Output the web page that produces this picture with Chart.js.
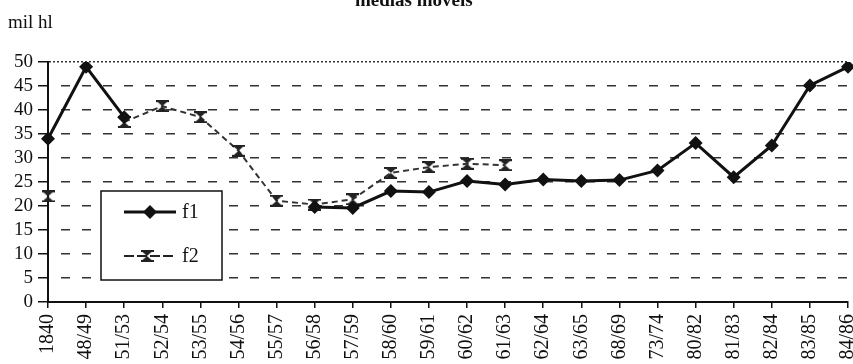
<!DOCTYPE html>
<html>
<head>
<meta charset="utf-8">
<script src="https://cdn.jsdelivr.net/npm/chart.js@4/dist/chart.umd.min.js"></script>
<style>
  html, body { margin: 0; padding: 0; background: #fff; overflow: hidden; }
  #wrap { position: relative; width: 853px; height: 364px; overflow: hidden; }
  #chart { position: absolute; left: 0; top: 0; }
  .txt { position: absolute; font-family: "Liberation Serif", "DejaVu Serif", serif; color: #111; white-space: nowrap; line-height: 19px; }
</style>
</head>
<body>
<div id="wrap">
  <canvas id="chart" width="878" height="400"></canvas>
  <div class="txt" style="left:355px; top:-10px; font-size:19px; font-weight:bold;">médias móveis</div>
  <div class="txt" style="left:8px; top:12px; font-size:19px;">mil hl</div>
</div>
<script>
// periods on the x axis
const periods = ['1840', '48/49', '51/53', '52/54', '53/55', '54/56', '55/57', '56/58', '57/59', '58/60', '59/61',
    '60/62', '61/63', '62/64', '63/65', '68/69', '73/74', '80/82', '81/83', '82/84', '83/85', '84/86'];

// mil hl
const f1 = [34, 49, 38.5, null, null, null, null, 19.8, 19.6, 23.1, 22.9,
    25.2, 24.5, 25.5, 25.2, 25.4, 27.4, 33.1, 26.0, 32.6, 45.1, 49.0];
const f2 = [22, null, 37.5, 40.8, 38.5, 31.5, 21.1, 20.3, 21.4, 26.9, 28.1,
    28.8, 28.5, null, null, null, null, null, null, null, null, null];

const yTicks = [0, 5, 10, 15, 20, 25, 30, 35, 40, 45, 50];

// hourglass marker used for f2
function hourglass() {
    const c = document.createElement('canvas');
    c.width = 13;
    c.height = 12;
    const g = c.getContext('2d');
    g.fillStyle = '#222';
    g.fillRect(0, 0, 13, 2);
    g.fillRect(0, 10, 13, 2);
    g.beginPath();
    g.moveTo(2, 2); g.lineTo(11, 2); g.lineTo(6.5, 6);
    g.lineTo(11, 10); g.lineTo(2, 10); g.lineTo(6.5, 6);
    g.closePath();
    g.fill();
    return c;
}
const f2Marker = hourglass();

// legend box inside the plot
const boxLegend = {
    id: 'boxLegend',
    afterDraw(chart) {
        const ctx = chart.ctx;
        ctx.save();
        ctx.fillStyle = '#fff';
        ctx.fillRect(101, 191, 121, 89);
        ctx.strokeStyle = '#111';
        ctx.lineWidth = 1.5;
        ctx.strokeRect(101, 191, 121, 89);

        // f1
        ctx.strokeStyle = '#111';
        ctx.lineWidth = 3;
        ctx.beginPath(); ctx.moveTo(124, 212); ctx.lineTo(176, 212); ctx.stroke();
        ctx.fillStyle = '#111';
        ctx.beginPath();
        ctx.moveTo(150, 205); ctx.lineTo(157, 212); ctx.lineTo(150, 219); ctx.lineTo(143, 212);
        ctx.closePath(); ctx.fill();

        // f2
        ctx.strokeStyle = '#222';
        ctx.lineWidth = 2;
        ctx.setLineDash([10, 3]);
        ctx.beginPath(); ctx.moveTo(124, 256); ctx.lineTo(176, 256); ctx.stroke();
        ctx.setLineDash([]);
        ctx.drawImage(f2Marker, 147 - 6.5, 256 - 6);

        ctx.fillStyle = '#111';
        ctx.font = '20px "Liberation Serif"';
        ctx.textBaseline = 'middle';
        ctx.fillText('f1', 182, 213);
        ctx.fillText('f2', 182, 257);
        ctx.restore();
    }
};

new Chart(document.getElementById('chart'), {
    type: 'line',
    data: {
        labels: periods,
        datasets: [
            {
                label: 'f1',
                data: f1,
                borderColor: '#111',
                backgroundColor: '#111',
                borderWidth: 3,
                pointStyle: 'rectRot',
                pointRadius: 7,
                pointBorderWidth: 0,
                spanGaps: false,
                tension: 0,
            },
            {
                label: 'f2',
                data: f2,
                borderColor: '#333',
                backgroundColor: '#333',
                borderWidth: 2,
                borderDash: [6, 4],
                pointStyle: f2Marker,
                spanGaps: false,
                tension: 0,
            },
        ]
    },
    options: {
        responsive: false,
        animation: false,
        devicePixelRatio: 1,
        layout: { padding: { top: 62, left: 0, right: 5, bottom: 0 } },
        plugins: {
            legend: { display: false },
            title: { display: false },
            tooltip: { enabled: false },
        },
        scales: {
            x: {
                offset: false,
                afterFit: (scale) => { scale.height = 98; },
                grid: {
                    drawOnChartArea: false,
                    color: '#111',
                    lineWidth: 1.5,
                    tickLength: 6,
                },
                border: { color: '#111', width: 2 },
                ticks: {
                    minRotation: 90,
                    maxRotation: 90,
                    autoSkip: false,
                    padding: 6,
                    color: '#111',
                    font: { family: 'Liberation Serif', size: 20 },
                },
            },
            y: {
                min: 0,
                max: 50,
                afterFit: (scale) => { scale.width = 48; },
                afterBuildTicks: (scale) => { scale.ticks = yTicks.map(v => ({ value: v })); },
                grid: {
                    color: (c) => (c.tick && c.tick.value === 0) ? 'rgba(0,0,0,0)' : '#333',
                    lineWidth: 1.5,
                    tickColor: '#111',
                    tickLength: 10,
                },
                border: {
                    color: '#111',
                    width: 2,
                    dash: (c) => (c.tick && c.tick.value === 50) ? [2, 2] : [9, 12],
                    dashOffset: -12,
                },
                ticks: {
                    autoSkip: false,
                    padding: 5,
                    color: '#111',
                    font: { family: 'Liberation Serif', size: 19 },
                },
            },
        },
    },
    plugins: [boxLegend],
});
</script>
</body>
</html>
